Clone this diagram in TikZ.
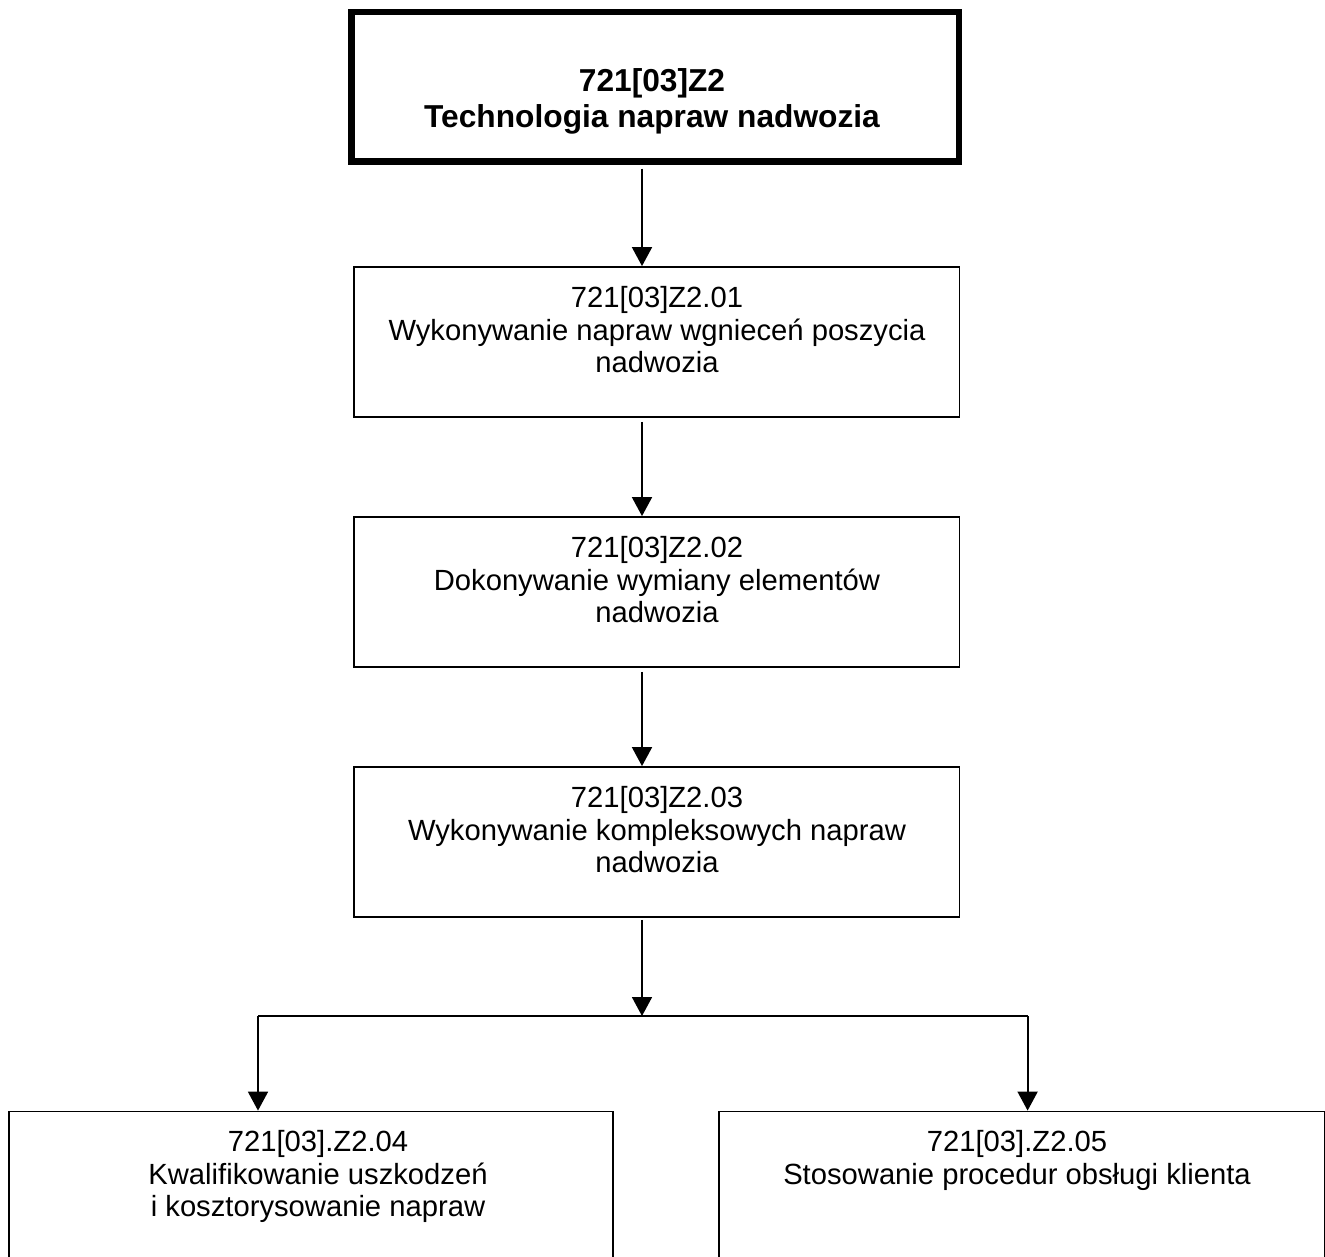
\documentclass[tikz,border=0pt]{standalone}
\usepackage{fontspec}
\setmainfont{Liberation Sans}
\usetikzlibrary{arrows.meta}
\begin{document}
\begin{tikzpicture}[x=1pt,y=-1pt,
  frame/.style={draw, line width=1.8pt, inner sep=0pt, minimum width=605.5pt},
  mainframe/.style={draw, line width=6.5pt, inner sep=0pt, minimum width=607.5pt, minimum height=149.5pt},
  txt/.style={font=\fontsize{29.2}{32.8}\selectfont, align=center, anchor=north, inner sep=0pt},
  btxt/.style={font=\bfseries\fontsize{31.7}{36}\selectfont, align=center, anchor=north, inner sep=0pt},
  conn/.style={line width=1.8pt},
  arr/.style={line width=1.8pt, -{Triangle[width=20pt,length=19pt]}}]
\useasboundingbox (0,0) rectangle (1325,1257);
\fill[white] (0,0) rectangle (1325,1257);
\clip (0,0) rectangle (1325,1257);
% boxes
\node[mainframe] (top) at (655.25,86.75) {};
\node[frame, minimum height=150pt] (b1) at (656.75,342) {};
\node[frame, minimum height=150pt] (b2) at (656.75,592) {};
\node[frame, minimum height=150pt] (b3) at (656.75,842) {};
\node[frame, minimum width=604pt, minimum height=178.5pt] (bl) at (311,1200.75) {};
\node[frame, minimum height=178.5pt] (br) at (1021.75,1200.75) {};
% texts
\node[btxt] (t0) at (652,68) {721[03]Z2\\Technologia napraw nadwozia};
\node[txt] (t1) at (657,286) {721[03]Z2.01\\Wykonywanie napraw wgnieceń poszycia\\nadwozia};
\node[txt] (t2) at (657,536) {721[03]Z2.02\\Dokonywanie wymiany elementów\\nadwozia};
\node[txt] (t3) at (657,786) {721[03]Z2.03\\Wykonywanie kompleksowych napraw\\nadwozia};
\node[txt] (t4) at (318,1130) {721[03].Z2.04\\Kwalifikowanie uszkodzeń\\i kosztorysowanie napraw};
\node[txt] (t5) at (1017,1130) {721[03].Z2.05\\Stosowanie procedur obsługi klienta};
% connectors
\coordinate (ax) at (642,0);
\coordinate (jc) at (642,1016);
\coordinate (jl) at (258,1016);
\coordinate (jr) at (1027.6,1016);
\draw[arr] ([yshift=-4pt]top.south -| ax) -- (b1.north -| ax);
\draw[arr] ([yshift=-4pt]b1.south -| ax) -- (b2.north -| ax);
\draw[arr] ([yshift=-4pt]b2.south -| ax) -- (b3.north -| ax);
\draw[arr] ([yshift=-2pt]b3.south -| ax) -- (jc);
\draw[conn] (jl) -- (jr);
\draw[arr] (jl) -- (bl.north -| jl);
\draw[arr] (jr) -- (br.north -| jr);
\end{tikzpicture}
\end{document}
